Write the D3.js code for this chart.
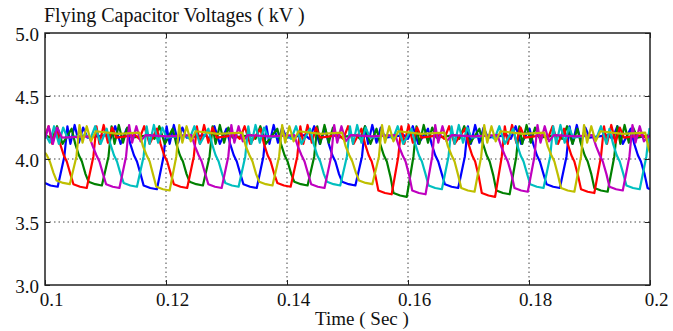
<!DOCTYPE html>
<html>
<head>
<meta charset="utf-8">
<script src="https://cdn.jsdelivr.net/npm/d3@7"></script>
<style>
  body { margin: 0; background: #fff; }
  svg { display: block; font-family: "Liberation Serif", "Times New Roman", serif; }
</style>
</head>
<body>
<div id="chart"></div>
<script>
// time in ms, voltage in kV
const blueV = [
[100,3.81],[100.9,3.79],[102.1,3.78],
[103.2,4.02],[103.7,4.26],[104.2,4.12],[104.9,4.27],[105.6,4.13],[106.3,4.25],[107.0,4.17],[110.1,4.19],[110.8,4.16],[111.6,4.26],[112.5,4.12],
[113.5,4.24],[114.1,4.12],[114.7,4.03],[115.2,3.98],[115.8,3.88],[116.3,3.79],[117.4,3.77],[118.5,3.76],
[119.6,4.02],[120.1,4.26],[120.6,4.12],[121.3,4.27],[122.0,4.13],[122.7,4.25],[123.4,4.17],[126.5,4.19],[127.2,4.16],[128.0,4.26],[128.9,4.12],
[130.0,4.24],[130.6,4.12],[131.2,4.03],[131.7,3.98],[132.3,3.88],[132.8,3.80],[133.9,3.78],[135.0,3.77],
[136.1,4.02],[136.6,4.26],[137.1,4.12],[137.8,4.27],[138.5,4.13],[139.2,4.25],[139.9,4.17],[143.0,4.19],[143.7,4.16],[144.5,4.26],[145.4,4.12],
[146.3,4.24],[146.9,4.12],[147.5,4.03],[148.0,3.98],[148.6,3.88],[149.1,3.82],[150.2,3.80],[151.3,3.79],
[152.4,4.02],[152.9,4.26],[153.4,4.12],[154.1,4.27],[154.8,4.13],[155.5,4.25],[156.2,4.17],[159.3,4.19],[160.0,4.16],[160.8,4.26],[161.7,4.12],
[163.3,4.24],[163.9,4.12],[164.5,4.03],[165.0,3.98],[165.6,3.88],[166.1,3.80],[167.2,3.78],[168.3,3.77],
[169.4,4.02],[169.9,4.26],[170.4,4.12],[171.1,4.27],[171.8,4.13],[172.5,4.25],[173.2,4.17],[176.3,4.19],[177.0,4.16],[177.8,4.26],[178.7,4.12],
[180.1,4.24],[180.7,4.12],[181.3,4.03],[181.8,3.98],[182.4,3.88],[182.9,3.80],[184.0,3.78],[185.1,3.77],
[186.2,4.02],[186.7,4.26],[187.2,4.12],[187.9,4.27],[188.6,4.13],[189.3,4.25],[190.0,4.17],[193.1,4.19],[193.8,4.16],[194.6,4.26],[195.5,4.12],
[196.8,4.24],[197.4,4.12],[198.0,4.03],[198.5,3.98],[199.1,3.88],[199.6,3.77],[200,3.76]
];

const greenV = [
[100,4.19],[101.2,4.16],[102.0,4.26],[102.9,4.12],
[104.4,4.24],[105.0,4.12],[105.6,4.03],[106.1,3.98],[106.7,3.88],[107.2,3.82],[108.3,3.80],[109.4,3.79],
[110.5,4.02],[111.0,4.26],[111.5,4.12],[112.2,4.27],[112.9,4.13],[113.6,4.25],[114.3,4.17],[117.4,4.19],[118.1,4.16],[118.9,4.26],[119.8,4.12],
[121.1,4.24],[121.7,4.12],[122.3,4.03],[122.8,3.98],[123.4,3.88],[123.9,3.82],[125.0,3.80],[126.1,3.79],
[127.2,4.02],[127.7,4.26],[128.2,4.12],[128.9,4.27],[129.6,4.13],[130.3,4.25],[131.0,4.17],[134.1,4.19],[134.8,4.16],[135.6,4.26],[136.5,4.12],
[138.4,4.24],[139.0,4.12],[139.6,4.03],[140.1,3.98],[140.7,3.88],[141.2,3.82],[142.3,3.80],[143.4,3.79],
[144.5,4.02],[145.0,4.26],[145.5,4.12],[146.2,4.27],[146.9,4.13],[147.6,4.25],[148.3,4.17],[151.4,4.19],[152.1,4.16],[152.9,4.26],[153.8,4.12],
[154.8,4.24],[155.4,4.12],[156.0,4.03],[156.5,3.98],[157.1,3.86],[157.6,3.73],[158.7,3.71],[159.8,3.70],
[160.9,4.02],[161.4,4.26],[161.9,4.12],[162.6,4.27],[163.3,4.13],[164.0,4.25],[164.7,4.17],[167.8,4.19],[168.5,4.16],[169.3,4.26],[170.2,4.12],
[171.8,4.24],[172.4,4.12],[173.0,4.03],[173.5,3.98],[174.1,3.87],[174.6,3.75],[175.7,3.73],[176.8,3.72],
[177.9,4.02],[178.4,4.26],[178.9,4.12],[179.6,4.27],[180.3,4.13],[181.0,4.25],[181.7,4.17],[184.8,4.19],[185.5,4.16],[186.3,4.26],[187.2,4.12],
[188.0,4.24],[188.6,4.12],[189.2,4.03],[189.7,3.98],[190.3,3.88],[190.8,3.77],[191.9,3.75],[193.0,3.74],
[194.1,4.02],[194.6,4.26],[195.1,4.12],[195.8,4.27],[196.5,4.13],[197.2,4.25],[197.9,4.17],[200,4.19]
];

const redV = [
[100,4.18],[100.6,4.26],[101.2,4.12],
[101.9,4.24],[102.5,4.12],[103.1,4.03],[103.6,3.98],[104.2,3.88],[104.7,3.80],[105.8,3.78],[106.9,3.77],
[108.0,4.02],[108.5,4.26],[109.0,4.12],[109.7,4.27],[110.4,4.13],[111.1,4.25],[111.8,4.17],[114.9,4.19],[115.6,4.16],[116.4,4.26],[117.3,4.12],
[118.5,4.24],[119.1,4.12],[119.7,4.03],[120.2,3.98],[120.8,3.88],[121.3,3.80],[122.4,3.78],[123.5,3.77],
[124.6,4.02],[125.1,4.26],[125.6,4.12],[126.3,4.27],[127.0,4.13],[127.7,4.25],[128.4,4.17],[131.5,4.19],[132.2,4.16],[133.0,4.26],[133.9,4.12],
[135.6,4.24],[136.2,4.12],[136.8,4.03],[137.3,3.98],[137.9,3.88],[138.4,3.81],[139.5,3.79],[140.6,3.78],
[141.7,4.02],[142.2,4.26],[142.7,4.12],[143.4,4.27],[144.1,4.13],[144.8,4.25],[145.5,4.17],[148.6,4.19],[149.3,4.16],[150.1,4.26],[151.0,4.12],
[152.3,4.24],[152.9,4.12],[153.5,4.03],[154.0,3.98],[154.6,3.87],[155.1,3.75],[156.2,3.73],[157.3,3.72],
[158.4,4.02],[158.9,4.26],[159.4,4.12],[160.1,4.27],[160.8,4.13],[161.5,4.25],[162.2,4.17],[165.3,4.19],[166.0,4.16],[166.8,4.26],[167.7,4.12],
[169.4,4.24],[170.0,4.12],[170.6,4.03],[171.1,3.98],[171.7,3.86],[172.2,3.73],[173.3,3.71],[174.4,3.70],
[175.5,4.02],[176.0,4.26],[176.5,4.12],[177.2,4.27],[177.9,4.13],[178.6,4.25],[179.3,4.17],[182.4,4.19],[183.1,4.16],[183.9,4.26],[184.8,4.12],
[185.8,4.24],[186.4,4.12],[187.0,4.03],[187.5,3.98],[188.1,3.87],[188.6,3.76],[189.7,3.74],[190.8,3.73],
[191.9,4.02],[192.4,4.26],[192.9,4.12],[193.6,4.27],[194.3,4.13],[195.0,4.25],[195.7,4.17],[198.8,4.19],[199.5,4.16],[200,4.22]
];

const cyanV = [
[100,4.20],[100.8,4.13],[101.5,4.26],[102.3,4.12],[103.0,4.25],[103.7,4.17],[106.8,4.19],[107.5,4.16],[108.3,4.26],[109.2,4.12],
[110.2,4.24],[110.8,4.12],[111.4,4.03],[111.9,3.98],[112.5,3.88],[113.0,3.81],[114.1,3.79],[115.2,3.78],
[116.3,4.02],[116.8,4.26],[117.3,4.12],[118.0,4.27],[118.7,4.13],[119.4,4.25],[120.1,4.17],[123.2,4.19],[123.9,4.16],[124.7,4.26],[125.6,4.12],
[127.0,4.24],[127.6,4.12],[128.2,4.03],[128.7,3.98],[129.3,3.88],[129.8,3.81],[130.9,3.79],[132.0,3.78],
[133.1,4.02],[133.6,4.26],[134.1,4.12],[134.8,4.27],[135.5,4.13],[136.2,4.25],[136.9,4.17],[140.0,4.19],[140.7,4.16],[141.5,4.26],[142.4,4.12],
[143.8,4.24],[144.4,4.12],[145.0,4.03],[145.5,3.98],[146.1,3.88],[146.6,3.82],[147.7,3.80],[148.8,3.79],
[149.9,4.02],[150.4,4.26],[150.9,4.12],[151.6,4.27],[152.3,4.13],[153.0,4.25],[153.7,4.17],[156.8,4.19],[157.5,4.16],[158.3,4.26],[159.2,4.12],
[160.6,4.24],[161.2,4.12],[161.8,4.03],[162.3,3.98],[162.9,3.88],[163.4,3.79],[164.5,3.77],[165.6,3.76],
[166.7,4.02],[167.2,4.26],[167.7,4.12],[168.4,4.27],[169.1,4.13],[169.8,4.25],[170.5,4.17],[173.6,4.19],[174.3,4.16],[175.1,4.26],[176.0,4.12],
[177.4,4.24],[178.0,4.12],[178.6,4.03],[179.1,3.98],[179.7,3.88],[180.2,3.80],[181.3,3.78],[182.4,3.77],
[183.5,4.02],[184.0,4.26],[184.5,4.12],[185.2,4.27],[185.9,4.13],[186.6,4.25],[187.3,4.17],[190.4,4.19],[191.1,4.16],[191.9,4.26],[192.8,4.12],
[193.3,4.24],[193.9,4.12],[194.5,4.03],[195.0,3.98],[195.6,3.88],[196.1,3.79],[197.2,3.77],[198.3,3.76],
[199.4,4.02],[199.9,4.24],[200,4.22]
];

const magentaV = [
[100,4.16],[100.6,4.26],[101.3,4.12],[102.0,4.25],[102.8,4.17],
[107.3,4.18],[107.9,4.10],[108.5,4.03],[109.0,3.98],[109.6,3.88],[110.1,3.80],[111.2,3.78],[112.3,3.77],
[113.4,4.02],[113.9,4.27],[114.4,4.13],[115.1,4.26],[115.8,4.14],[116.6,4.19],[120.3,4.18],
[124.2,4.19],[124.8,4.10],[125.4,4.03],[125.9,3.98],[126.5,3.88],[127.0,3.80],[128.1,3.78],[129.2,3.77],
[130.3,4.02],[130.8,4.27],[131.3,4.13],[132.0,4.26],[132.7,4.14],[133.5,4.19],[137.2,4.18],
[141.2,4.19],[141.8,4.10],[142.4,4.03],[142.9,3.98],[143.5,3.88],[144.0,3.80],[145.1,3.78],[146.2,3.77],
[147.3,4.02],[147.8,4.27],[148.3,4.13],[149.0,4.26],[149.7,4.14],[150.5,4.19],[154.2,4.18],
[157.9,4.19],[158.5,4.10],[159.1,4.03],[159.6,3.98],[160.2,3.87],[160.7,3.75],[161.8,3.73],[162.9,3.72],
[164.0,4.02],[164.5,4.27],[165.0,4.13],[165.7,4.26],[166.4,4.14],[167.2,4.19],[170.9,4.18],
[174.8,4.19],[175.4,4.10],[176.0,4.03],[176.5,3.98],[177.1,3.88],[177.6,3.77],[178.7,3.75],[179.8,3.74],
[180.9,4.02],[181.4,4.27],[181.9,4.13],[182.6,4.26],[183.3,4.14],[184.1,4.19],[187.8,4.18],
[190.5,4.19],[191.1,4.10],[191.7,4.03],[192.2,3.98],[192.8,3.88],[193.3,3.78],[194.4,3.76],[195.5,3.75],
[196.6,4.02],[197.1,4.27],[197.6,4.13],[198.3,4.26],[199.0,4.14],[200,4.19]
];

const yellowV = [
[100,4.05],[100.3,4.03],[100.8,3.98],[101.4,3.89],[101.9,3.83],[103.0,3.81],[104.1,3.80],
[105.2,4.02],[105.7,4.27],[106.2,4.13],[106.9,4.26],[107.6,4.14],[108.4,4.22],[112.1,4.20],
[115.6,4.21],[116.2,4.10],[116.8,4.03],[117.3,3.98],[117.9,3.87],[118.4,3.78],[119.5,3.76],[120.6,3.75],
[121.7,4.02],[122.2,4.27],[122.7,4.13],[123.4,4.26],[124.1,4.14],[124.9,4.22],[128.6,4.20],
[132.6,4.21],[133.2,4.10],[133.8,4.03],[134.3,3.98],[134.9,3.88],[135.4,3.82],[136.5,3.80],[137.6,3.79],
[138.7,4.02],[139.2,4.27],[139.7,4.13],[140.4,4.26],[141.1,4.14],[141.9,4.22],[145.6,4.20],
[149.1,4.21],[149.7,4.10],[150.3,4.03],[150.8,3.98],[151.4,3.89],[151.9,3.83],[153.0,3.81],[154.1,3.80],
[155.2,4.02],[155.7,4.27],[156.2,4.13],[156.9,4.26],[157.6,4.14],[158.4,4.22],[162.1,4.20],
[166.0,4.21],[166.6,4.10],[167.2,4.03],[167.7,3.98],[168.3,3.87],[168.8,3.77],[169.9,3.75],[171.0,3.74],
[172.1,4.02],[172.6,4.27],[173.1,4.13],[173.8,4.26],[174.5,4.14],[175.3,4.22],[179.0,4.20],
[182.5,4.21],[183.1,4.10],[183.7,4.03],[184.2,3.98],[184.8,3.87],[185.3,3.77],[186.4,3.75],[187.5,3.74],
[188.6,4.02],[189.1,4.27],[189.6,4.13],[190.3,4.26],[191.0,4.14],[191.8,4.22],[195.5,4.20],
[199.2,4.21],[199.8,4.08],[200,4.05]
];

const xTicks = [0.1, 0.12, 0.14, 0.16, 0.18, 0.2];
const xTickLabels = ['0.1', '0.12', '0.14', '0.16', '0.18', '0.2'];
const yTicks = [3.0, 3.5, 4.0, 4.5, 5.0];
const yTickLabels = ['3.0', '3.5', '4.0', '4.5', '5.0'];

// MATLAB draws later lines on top
const series = [
  {name: 'blue', values: blueV, color: '#0000ff'},
  {name: 'green', values: greenV, color: '#008000'},
  {name: 'red', values: redV, color: '#ff0000'},
  {name: 'cyan', values: cyanV, color: '#00bfbf'},
  {name: 'magenta', values: magentaV, color: '#bf00bf'},
  {name: 'yellow', values: yellowV, color: '#bfbf00'}
];

let width = 673;
let height = 331;
let pLeft = 45, pRight = 650, pTop = 33, pBottom = 285;

let svg = d3.select('#chart')
  .append('svg')
  .attr('width', width)
  .attr('height', height);

let x = d3.scaleLinear().domain([0.1, 0.2]).range([pLeft, pRight]);
let y = d3.scaleLinear().domain([3, 5]).range([pBottom, pTop]);

svg.append('clipPath').attr('id', 'clip')
  .append('rect')
  .attr('x', pLeft).attr('y', pTop)
  .attr('width', pRight - pLeft).attr('height', pBottom - pTop);

// dotted grid
svg.append('g')
  .selectAll('line')
  .data(xTicks.slice(1, -1))
  .enter()
  .append('line')
  .attr('x1', d => x(d)).attr('x2', d => x(d))
  .attr('y1', pTop).attr('y2', pBottom)
  .attr('stroke', '#444')
  .attr('stroke-width', 1)
  .attr('stroke-dasharray', '1.5,3');

svg.append('g')
  .selectAll('line')
  .data(yTicks.slice(1, -1))
  .enter()
  .append('line')
  .attr('x1', pLeft).attr('x2', pRight)
  .attr('y1', d => y(d)).attr('y2', d => y(d))
  .attr('stroke', '#444')
  .attr('stroke-width', 1)
  .attr('stroke-dasharray', '1.5,3');

let line = d3.line()
  .x(d => x(d[0] / 1000))
  .y(d => y(d[1]));

svg.append('g')
  .attr('clip-path', 'url(#clip)')
  .selectAll('path')
  .data(series)
  .enter()
  .append('path')
  .attr('d', d => line(d.values))
  .attr('fill', 'none')
  .attr('stroke', d => d.color)
  .attr('stroke-width', 2.2)
  .attr('stroke-linejoin', 'round');

// axes with inward ticks
let xAxis = svg.append('g')
  .attr('transform', `translate(0,${pBottom})`)
  .call(d3.axisBottom(x).tickValues(xTicks).tickSize(-5).tickPadding(8)
    .tickFormat((d, i) => xTickLabels[i]));
xAxis.selectAll('text').attr('x', 6);

svg.append('g')
  .attr('transform', `translate(0,${pTop})`)
  .call(d3.axisTop(x).tickValues(xTicks).tickSize(-5).tickFormat(''));

let yAxis = svg.append('g')
  .attr('transform', `translate(${pLeft},0)`)
  .call(d3.axisLeft(y).tickValues(yTicks).tickSize(-5).tickPadding(6)
    .tickFormat((d, i) => yTickLabels[i]));
yAxis.selectAll('text').attr('dy', '0.42em');

svg.append('g')
  .attr('transform', `translate(${pRight},0)`)
  .call(d3.axisRight(y).tickValues(yTicks).tickSize(-5).tickFormat(''));

svg.selectAll('.domain').remove();
svg.selectAll('.tick line').attr('stroke', '#222').attr('stroke-width', 1);
svg.selectAll('.tick text')
  .attr('fill', '#111')
  .style('font-family', '"Liberation Serif", "Times New Roman", serif')
  .style('font-size', '19px');

svg.append('rect')
  .attr('x', pLeft).attr('y', pTop)
  .attr('width', pRight - pLeft).attr('height', pBottom - pTop)
  .attr('fill', 'none')
  .attr('stroke', '#222')
  .attr('stroke-width', 1.5);

svg.append('text')
  .attr('x', 44).attr('y', 22)
  .attr('fill', '#111')
  .style('font-size', '20px')
  .text('Flying Capacitor Voltages ( kV )');

svg.append('text')
  .attr('x', 362).attr('y', 325)
  .attr('text-anchor', 'middle')
  .attr('fill', '#111')
  .style('font-size', '19px')
  .text('Time ( Sec )');
</script>
</body>
</html>
